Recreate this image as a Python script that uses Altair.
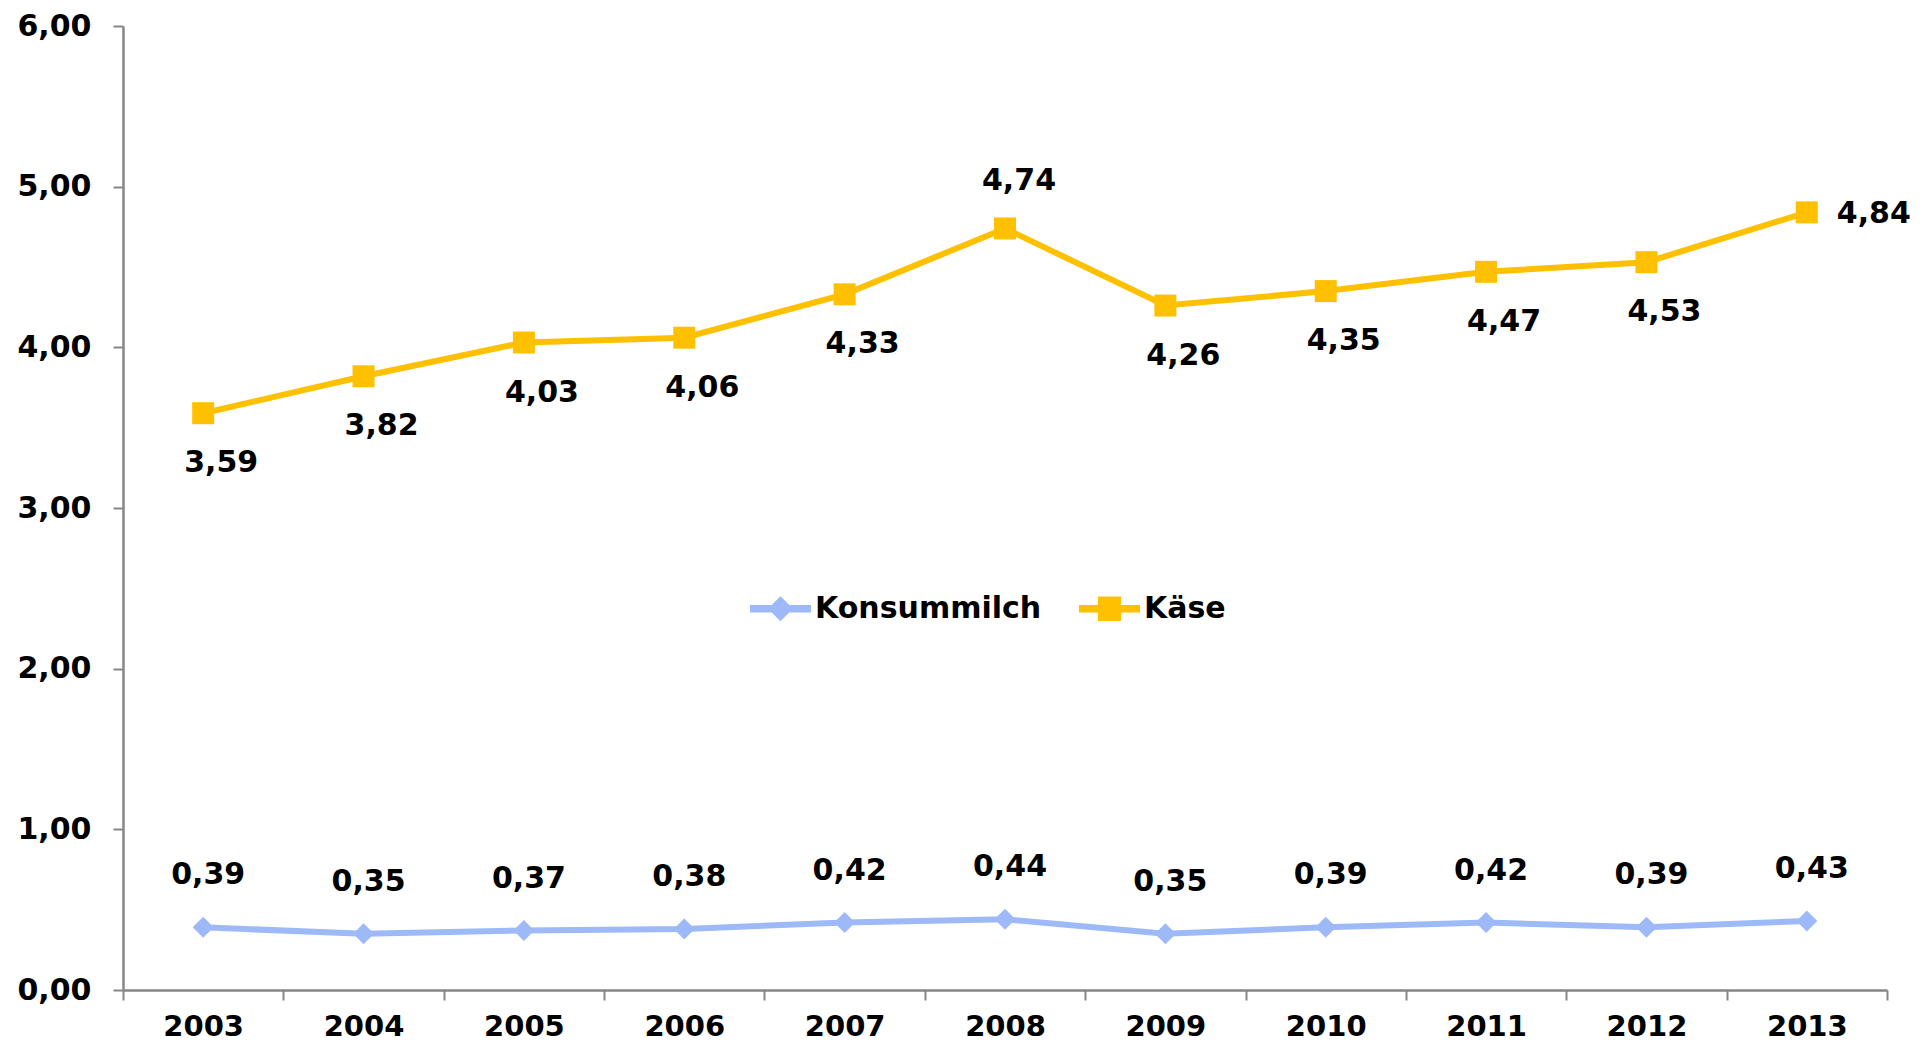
import altair as alt
import pandas as pd

years = ["2003", "2004", "2005", "2006", "2007", "2008", "2009", "2010", "2011", "2012", "2013"]
milch = [0.39, 0.35, 0.37, 0.38, 0.42, 0.44, 0.35, 0.39, 0.42, 0.39, 0.43]
kaese = [3.59, 3.82, 4.03, 4.06, 4.33, 4.74, 4.26, 4.35, 4.47, 4.53, 4.84]
series_names = ["Konsummilch", "Käse"]
series_colors = ["#9DB9F8", "#FFC000"]

rows = []
for y, m, k in zip(years, milch, kaese):
    rows.append({"year": y, "value": m, "series": series_names[0]})
    rows.append({"year": y, "value": k, "series": series_names[1]})
df = pd.DataFrame(rows)

FONT = "DejaVu Sans"
FS = 30

x_enc = alt.X("year:N", sort=years,
              scale=alt.Scale(type="band", paddingInner=0, paddingOuter=0),
              axis=alt.Axis(title=None, labelAngle=0, tickBand="extent", labelPadding=12,
                            labelFontSize=29))
y_enc = alt.Y("value:Q", scale=alt.Scale(domain=[0, 6], nice=False, zero=True),
              axis=alt.Axis(title=None, values=[0, 1, 2, 3, 4, 5, 6], labelPadding=22,
                            labelFontSize=30,
                            labelExpr="replace(format(datum.value, '.2f'), '.', ',')"))

base = alt.Chart(df).encode(x=x_enc, y=y_enc)
lbl = "replace(format(datum.value, '.2f'), '.', ',')"

milk_line = base.transform_filter(alt.datum.series == series_names[0]).mark_line(
    color=series_colors[0], strokeWidth=6)
kase_line = base.transform_filter(alt.datum.series == series_names[1]).mark_line(
    color=series_colors[1], strokeWidth=6)
milk_pts = base.transform_filter(alt.datum.series == series_names[0]).mark_point(
    shape="diamond", filled=True, size=440, color=series_colors[0], opacity=1)
kase_pts = base.transform_filter(alt.datum.series == series_names[1]).mark_point(
    shape="square", filled=True, size=484, color=series_colors[1], opacity=1)

text_base = base.transform_calculate(lbl=lbl)
milk_lbl = text_base.transform_filter(alt.datum.series == series_names[0]).mark_text(
    font=FONT, fontWeight="bold", fontSize=FS, color="black", dy=-52, dx=5,
    baseline="middle", align="center").encode(text="lbl:N")
kase_below = text_base.transform_filter(
    (alt.datum.series == series_names[1]) & (alt.datum.year != "2008") & (alt.datum.year != "2013")
).mark_text(font=FONT, fontWeight="bold", fontSize=FS, color="black", dy=50, dx=18,
            baseline="middle", align="center").encode(text="lbl:N")
kase_above = text_base.transform_filter(
    (alt.datum.series == series_names[1]) & (alt.datum.year == "2008")
).mark_text(font=FONT, fontWeight="bold", fontSize=FS, color="black", dy=-47, dx=14,
            baseline="middle", align="center").encode(text="lbl:N")
kase_right = text_base.transform_filter(
    (alt.datum.series == series_names[1]) & (alt.datum.year == "2013")
).mark_text(font=FONT, fontWeight="bold", fontSize=FS, color="black", dy=2, dx=30,
            baseline="middle", align="left").encode(text="lbl:N")

diamond_path = ("M-1,-0.125 L-0.29,-0.125 L0,-0.41 L0.29,-0.125 L1,-0.125 L1,0.125 "
                "L0.29,0.125 L0,0.41 L-0.29,0.125 L-1,0.125 Z")
square_path = ("M-1,-0.125 L-0.38,-0.125 L-0.38,-0.4 L0.38,-0.4 L0.38,-0.125 L1,-0.125 L1,0.125 "
               "L0.38,0.125 L0.38,0.4 L-0.38,0.4 L-0.38,0.125 L-1,0.125 Z")

leg = alt.Legend(title=None, orient="none", legendX=627, legendY=552,
                 direction="horizontal", symbolOpacity=1)
legend_layer = base.mark_point(filled=True, opacity=0).encode(
    color=alt.Color("series:N", sort=series_names,
                    scale=alt.Scale(domain=series_names, range=series_colors), legend=leg),
    shape=alt.Shape("series:N", sort=series_names,
                    scale=alt.Scale(domain=series_names, range=[diamond_path, square_path]),
                    legend=leg),
)

chart = alt.layer(
    legend_layer, milk_line, kase_line, milk_pts, kase_pts,
    milk_lbl, kase_below, kase_above, kase_right
).properties(
    width=1764, height=964,
    autosize="none",
    padding={"left": 115, "top": 18, "right": 27, "bottom": 52},
).configure_view(stroke=None).configure_axis(
    domainColor="#868686", domainWidth=2.5, tickColor="#868686", tickWidth=2, tickSize=10,
    labelFont=FONT, labelFontWeight="bold", labelFontSize=FS, labelColor="black", grid=False,
).configure_legend(
    labelFont=FONT, labelFontWeight="bold", labelFontSize=30, labelColor="black",
    labelLimit=500, symbolSize=3721, symbolStrokeWidth=0, labelOffset=4,
    columnPadding=37, padding=0, symbolOpacity=1,
)

chart.save("out.html", embed_options={"renderer": "svg", "actions": False})
